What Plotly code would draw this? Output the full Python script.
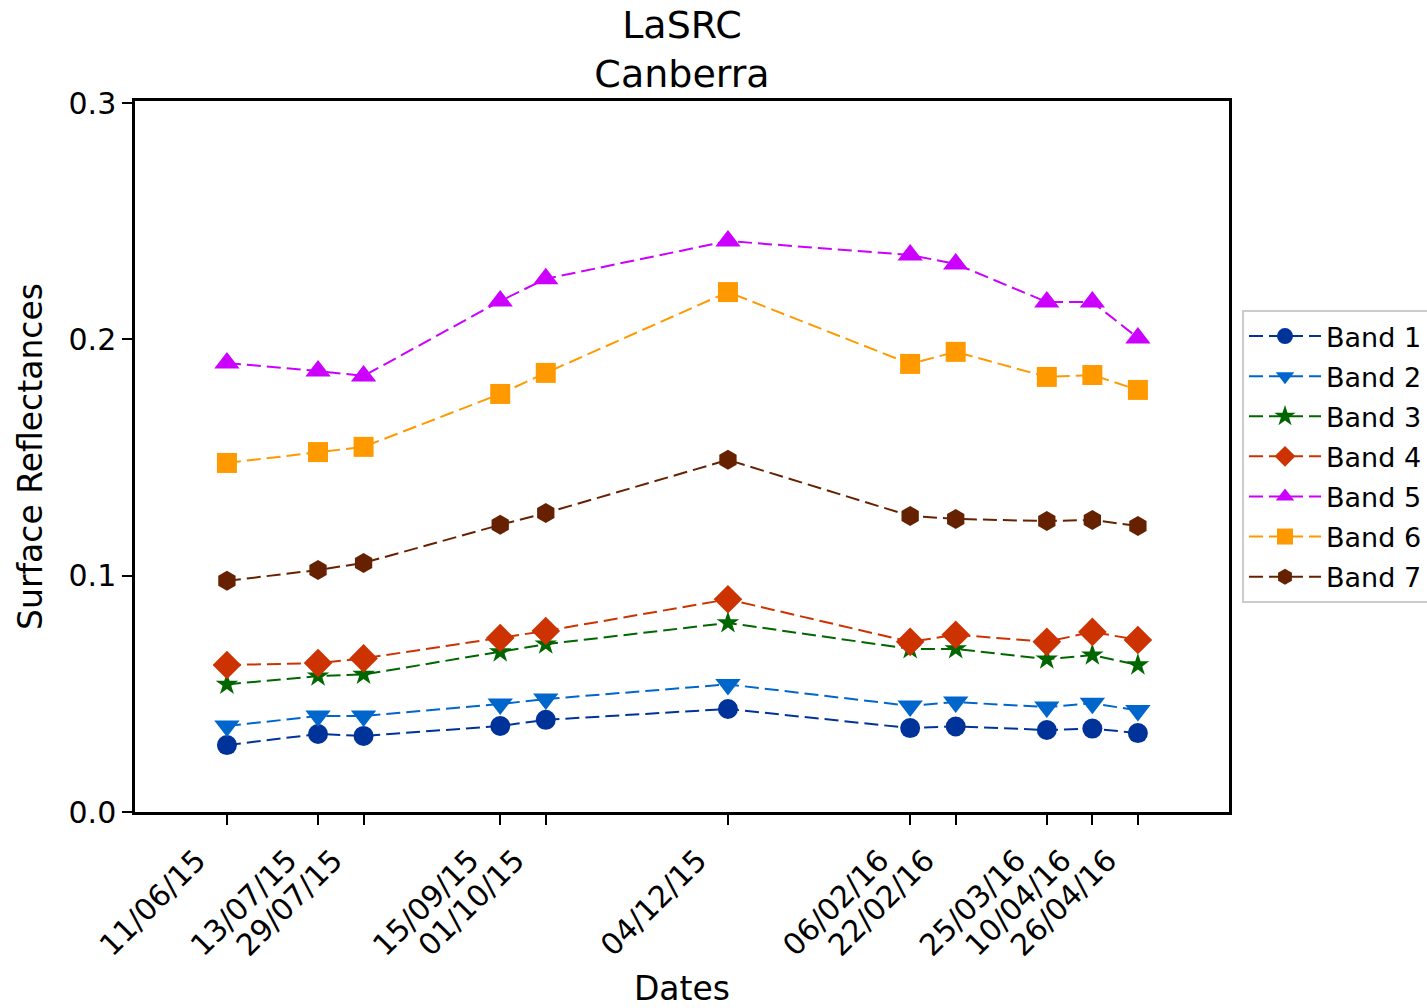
import plotly.graph_objects as go

dates = ["2015-06-11", "2015-07-13", "2015-07-29", "2015-09-15", "2015-10-01",
         "2015-12-04", "2016-02-06", "2016-02-22", "2016-03-25", "2016-04-10", "2016-04-26"]
date_labels = ["11/06/15", "13/07/15", "29/07/15", "15/09/15", "01/10/15",
               "04/12/15", "06/02/16", "22/02/16", "25/03/16", "10/04/16", "26/04/16"]

band1 = [0.0283, 0.0330, 0.0322, 0.0364, 0.0390, 0.0436, 0.0355, 0.0362, 0.0347, 0.0353, 0.0334]
band2 = [0.0364, 0.0406, 0.0406, 0.0457, 0.0478, 0.0540, 0.0449, 0.0465, 0.0444, 0.0460, 0.0430]
band3 = [0.0540, 0.0575, 0.0582, 0.0677, 0.0710, 0.0800, 0.0690, 0.0690, 0.0647, 0.0664, 0.0622]
band4 = [0.0622, 0.0630, 0.0650, 0.0736, 0.0766, 0.0900, 0.0720, 0.0750, 0.0720, 0.0762, 0.0728]
band5 = [0.1900, 0.1866, 0.1845, 0.2162, 0.2256, 0.2416, 0.2357, 0.2319, 0.2158, 0.2158, 0.2006]
band6 = [0.1477, 0.1523, 0.1545, 0.1769, 0.1858, 0.2200, 0.1896, 0.1947, 0.1841, 0.1849, 0.1786]
band7 = [0.0978, 0.1024, 0.1054, 0.1215, 0.1265, 0.1490, 0.1253, 0.1240, 0.1231, 0.1236, 0.1210]

series = [
    ("Band 1", band1, "#003399", "circle", 20),
    ("Band 2", band2, "#0066cc", "triangle-down", 22),
    ("Band 3", band3, "#006600", "star", 17),
    ("Band 4", band4, "#cc3300", "diamond", 22),
    ("Band 5", band5, "#cc00ff", "triangle-up", 22),
    ("Band 6", band6, "#ff9900", "square", 20),
    ("Band 7", band7, "#662200", "hexagon", 20),
]

fig = go.Figure()
for i, (name, vals, color, sym, sz) in enumerate(series):
    fig.add_trace(go.Scatter(
        x=dates, y=vals, name=name, mode="lines+markers", legendgroup=f"g{i}",
        line=dict(color=color, width=2, dash="14px,6px"),
        marker=dict(symbol=sym, size=sz, color=color, line=dict(width=0)),
    ))

font = "DejaVu Sans, Liberation Sans, sans-serif"
fig.update_layout(
    width=1427, height=1008,
    margin=dict(l=135, r=198, t=101, b=196),
    paper_bgcolor="white", plot_bgcolor="white",
    font=dict(family=font, color="black", size=30),
    title=dict(text="LaSRC<br>Canberra", x=682/1427, xanchor="center",
               y=1 - 38/1008, yanchor="top", yref="container",
               font=dict(size=38, family=font)),
    showlegend=True,
    legend=dict(xref="container", yref="container", x=1242/1427, y=1 - 310/1008,
                xanchor="left", yanchor="top", bgcolor="white",
                bordercolor="#cccccc", borderwidth=2, itemwidth=72,
                tracegroupgap=2,
                font=dict(size=27, family=font)),
)
fig.update_xaxes(
    type="date", range=["2015-05-09 17:00", "2016-05-28 00:00"],
    tickmode="array", tickvals=dates, ticktext=date_labels, tickangle=-45,
    showgrid=False, zeroline=False,
    showline=True, linecolor="black", linewidth=2.5, mirror=True,
    ticks="outside", ticklen=10, tickwidth=2, tickcolor="black",
    tickfont=dict(size=30), automargin=False,
    ticklabelshift=-30, ticklabelstandoff=6,
    title=dict(text="Dates", font=dict(size=33), standoff=24),
)
fig.update_yaxes(
    range=[0, 0.30085], tickmode="array", tickvals=[0, 0.1, 0.2, 0.3],
    ticktext=["0.0", "0.1", "0.2", "0.3"],
    showgrid=False, zeroline=False,
    showline=True, linecolor="black", linewidth=2.5, mirror=True,
    ticks="outside", ticklen=10, tickwidth=2, tickcolor="black",
    tickfont=dict(size=30), automargin=False,
    title=dict(text="Surface Reflectances", font=dict(size=33), standoff=16),
)

fig.write_html("out.html")
